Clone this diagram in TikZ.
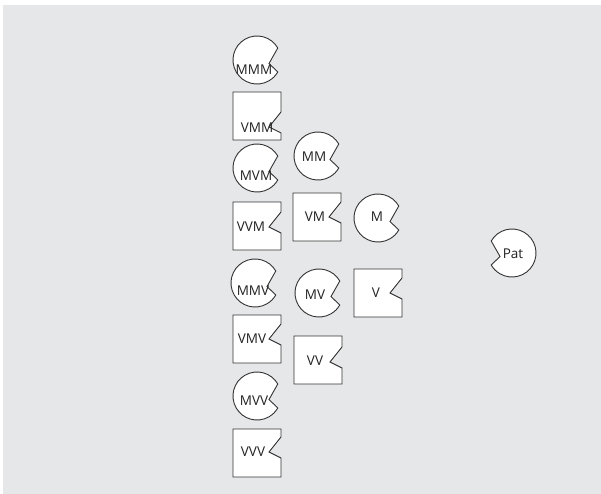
\documentclass[tikz,border=0pt]{standalone}
\usepackage{fontspec}
\setmainfont{Open Sans}
\definecolor{bgc}{HTML}{E6E7E8}
\definecolor{lnc}{HTML}{333333}
\definecolor{txc}{HTML}{222222}
\tikzset{
  shp/.style={draw=lnc, fill=white, line width=0.9pt, line join=miter},
  lbl/.style={inner sep=0pt, text=txc, font=\fontsize{13.5}{15}\selectfont},
  pacman/.pic={\draw[shp] (-30:24) arc[start angle=-30,end angle=-330,radius=24] -- (12,3.5) -- cycle;},
}
\newcommand\nsq[3]{\draw[shp] (#1,#2) -- (#1+48,#2) -- (#1+48,#3-15) -- (#1+36,#3) -- (#1+48,#3+6) -- (#1+48,#2+48) -- (#1,#2+48) -- cycle;}
\begin{document}
\begin{tikzpicture}[x=1pt,y=-1pt]
\useasboundingbox (0,0) rectangle (601,494);
\fill[bgc] (3,5) rectangle (601,494);
% circles
\pic at (257,60) {pacman};
\pic at (257,168) {pacman};
\pic at (255,283) {pacman};
\pic at (257,396) {pacman};
\pic at (318,156) {pacman};
\pic at (378,218) {pacman};
\pic at (319,293) {pacman};
\pic[xscale=-1] at (512,253) {pacman};
% squares
\nsq{233}{92}{127}
\nsq{233}{202}{227}
\nsq{233}{315}{339}
\nsq{233}{429}{452}
\nsq{293}{193}{217}
\nsq{294}{336}{362}
\nsq{354}{269}{293}
% labels
\node[lbl] (mmm) at (254,70) {MMM};
\node[lbl] (mvm) at (256,176) {MVM};
\node[lbl] (mmv) at (253,291) {MMV};
\node[lbl] (mvv) at (254,401) {MVV};
\node[lbl] (mm) at (314,157) {MM};
\node[lbl] (m) at (377,217) {M};
\node[lbl] (mv) at (315,295) {MV};
\node[lbl] (pat) at (513,254) {Pat};
\node[lbl] (vmm) at (257,128) {VMM};
\node[lbl] (vvm) at (251,227) {VVM};
\node[lbl] (vmv) at (252,339) {VMV};
\node[lbl] (vvv) at (253,452) {VVV};
\node[lbl] (vm) at (315,217) {VM};
\node[lbl] (vv) at (315,361) {VV};
\node[lbl] (v) at (376,293) {V};
\end{tikzpicture}
\end{document}
